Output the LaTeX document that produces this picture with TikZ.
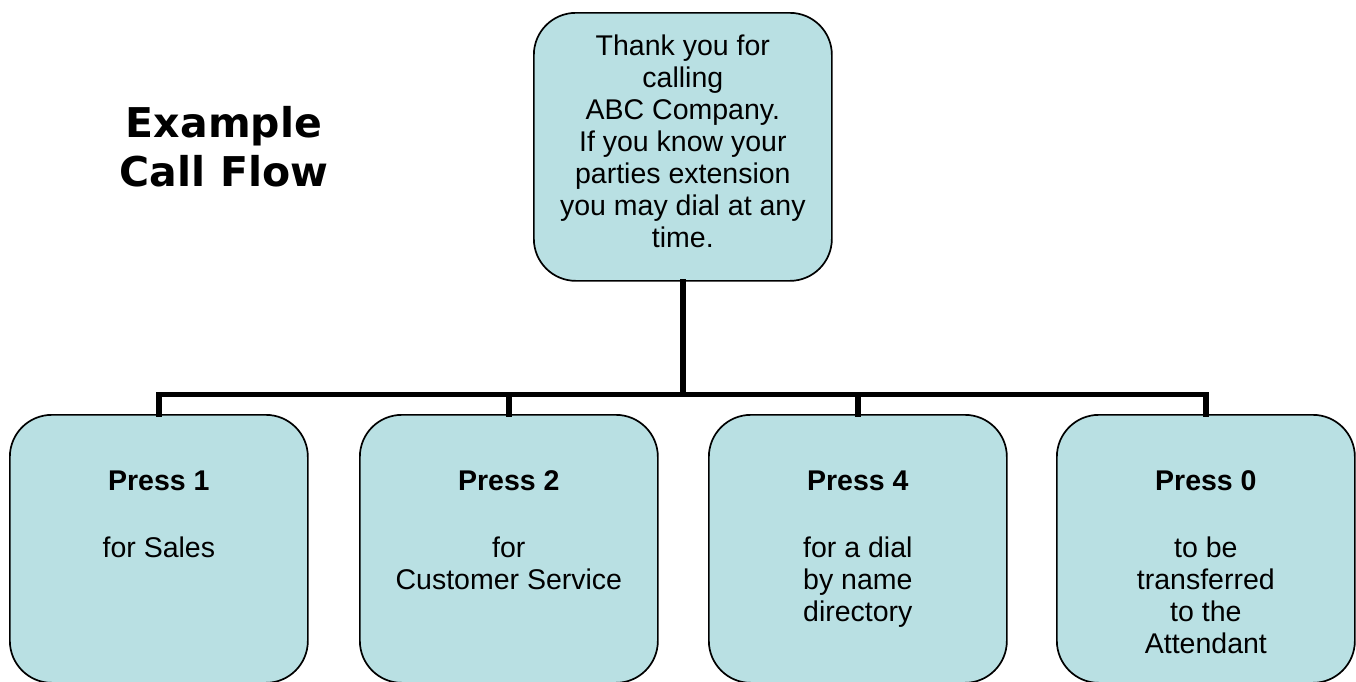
\documentclass[tikz,border=0pt]{standalone}
\usepackage{fontspec}
\setmainfont{Liberation Sans}
\newfontfamily\titlefont{DejaVu Sans}
\definecolor{boxfill}{RGB}{185,224,227}
\tikzset{
  flowbox/.style={draw=black, line width=1.7pt, fill=boxfill, rounded corners=42pt,
    inner sep=0pt, anchor=north west, font=\fontsize{28.5}{32}\selectfont},
  conn/.style={draw=black, line width=5.5pt, line join=miter, line cap=rect},
  titletext/.style={inner sep=0pt, align=center, font=\titlefont\bfseries\fontsize{41}{49}\selectfont}
}
\newcommand{\topcontent}[2]{\parbox[t][268pt][t]{298pt}{\centering\rule{0pt}{#1}#2}}
\begin{document}
\begin{tikzpicture}[x=1pt,y=-1pt]
\useasboundingbox (0,0) rectangle (1356,681);
\clip (0,0) rectangle (1356,681);
\fill[white] (0,0) rectangle (1356,681);

\node[titletext] (title) at (224,147) {Example\\Call Flow};

\node[flowbox] (top) at (533,12) {\topcontent{43pt}{Thank you for\\ calling\\ ABC Company.\\ If you know your\\ parties extension\\ you may dial at any\\ time.}};

\node[flowbox] (b1) at (9,414) {\topcontent{76pt}{\textbf{Press 1}\\[35pt] for Sales}};
\node[flowbox] (b2) at (359,414) {\topcontent{76pt}{\textbf{Press 2}\\[35pt] for\\ Customer Service}};
\node[flowbox] (b3) at (708,414) {\topcontent{76pt}{\textbf{Press 4}\\[35pt] for a dial\\ by name\\ directory}};
\node[flowbox] (b4) at (1056,414) {\topcontent{76pt}{\textbf{Press 0}\\[35pt] to be\\ transferred\\ to the\\ Attendant}};

\coordinate (bar) at (682,394.5);
\draw[conn] (top.south) -- (top.south |- bar);
\draw[conn] (b1.north) |- (bar);
\draw[conn] (b2.north) |- (bar);
\draw[conn] (b3.north) |- (bar);
\draw[conn] (b4.north) |- (bar);
\end{tikzpicture}
\end{document}
